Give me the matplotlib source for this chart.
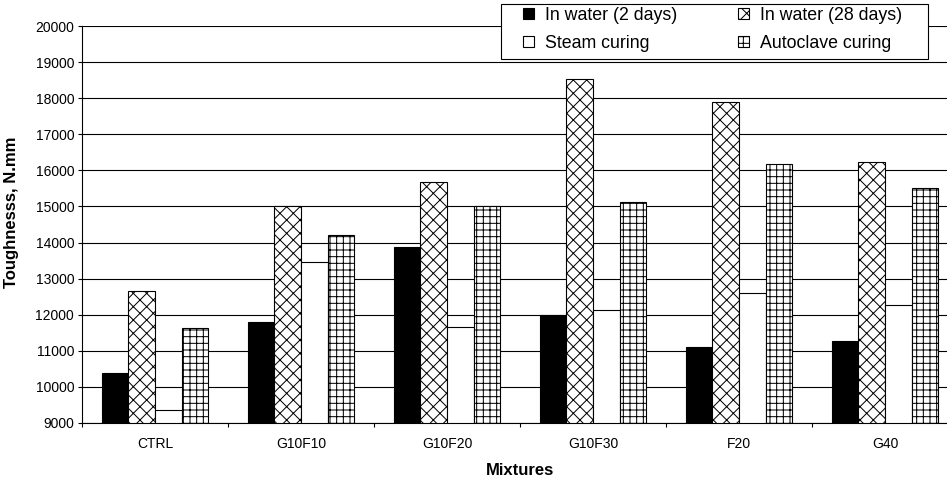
import matplotlib
matplotlib.use("Agg")
import matplotlib.pyplot as plt
from matplotlib.patches import Rectangle
import numpy as np

categories = ["CTRL", "G10F10", "G10F20", "G10F30", "F20", "G40"]
water_2d = [10380, 11800, 13880, 12000, 11100, 11270]
water_28d = [12660, 15020, 15690, 18530, 17900, 16220]
steam = [9360, 13470, 11660, 12140, 12600, 12280]
autoclave = [11630, 14200, 15020, 15120, 16190, 15520]
series_labels = ["In water (2 days)", "In water (28 days)", "Steam curing", "Autoclave curing"]
y_ticks = list(range(9000, 20001, 1000))

plt.rcParams['font.family'] = ['Liberation Sans', 'DejaVu Sans']
plt.rcParams['hatch.linewidth'] = 0.9
plt.rcParams['hatch.color'] = 'black'

DPI = 80
fig = plt.figure(figsize=(947 / DPI, 481 / DPI), dpi=DPI)
W, H = 947, 481
ax = fig.add_axes([82 / W, (H - 423) / H, (958 - 82) / W, (423 - 26) / H])

x = np.arange(len(categories))
bw = 0.183
offsets = np.array([-1.5, -0.5, 0.5, 1.5]) * bw
styles = [
    dict(facecolor='black', hatch=None),
    dict(facecolor='white', hatch='xx'),
    dict(facecolor='white', hatch=None),
    dict(facecolor='white', hatch='++'),
]
data = [water_2d, water_28d, steam, autoclave]
handles = []
for vals, off, st, lab in zip(data, offsets, styles, series_labels):
    b = ax.bar(x + off, np.array(vals) - 9000, bottom=9000, width=bw,
               facecolor=st['facecolor'], edgecolor='black', linewidth=1.0,
               hatch=st['hatch'], label=lab, zorder=3)
    handles.append(b)

ax.set_xlim(-0.5, len(categories) - 0.5)
ax.set_ylim(9000, 20000)
ax.set_yticks(y_ticks)
ax.set_yticklabels([str(v) for v in y_ticks], fontsize=12.5)
ax.yaxis.grid(True, color='black', linewidth=1.0)
ax.set_axisbelow(True)

ax.set_xticks(x)
ax.set_xticklabels(categories, fontsize=12.5)
ax.tick_params(axis='x', which='major', length=0, pad=13)
ax.set_xticks(np.arange(len(categories) + 1) - 0.5, minor=True)
ax.tick_params(axis='x', which='minor', length=4, width=1, direction='out')
ax.tick_params(axis='y', length=4, width=1, direction='out', pad=3)

ax.spines['right'].set_visible(False)
ax.spines['top'].set_visible(False)
ax.spines['left'].set_linewidth(1.0)
ax.spines['bottom'].set_linewidth(1.0)

ax.set_ylabel("Toughnesss, N.mm", fontsize=15, fontweight='bold')
ax.yaxis.set_label_coords(-63 / 876, 0.53)
ax.set_xlabel("Mixtures", fontsize=15, fontweight='bold', labelpad=10)

# legend box (frame drawn separately for exact padding)
fig.patches.append(Rectangle((501 / W, 1 - 59 / H), (928 - 501) / W, 55 / H,
                             transform=fig.transFigure, facecolor='white',
                             edgecolor='black', linewidth=1.0, zorder=5))
order = [0, 2, 1, 3]
fs = 16
px = fs * DPI / 72.0
leg = fig.legend([handles[i] for i in order], [series_labels[i] for i in order],
                 loc='upper left', bbox_to_anchor=(523 / W, 1 - 7 / H),
                 ncol=2, fontsize=fs, frameon=False, borderaxespad=0,
                 handlelength=11 / px, handleheight=11 / px,
                 handletextpad=11 / px, columnspacing=61 / px,
                 labelspacing=0.6, borderpad=0)
leg.set_zorder(6)

fig.savefig("out.png", dpi=DPI)
